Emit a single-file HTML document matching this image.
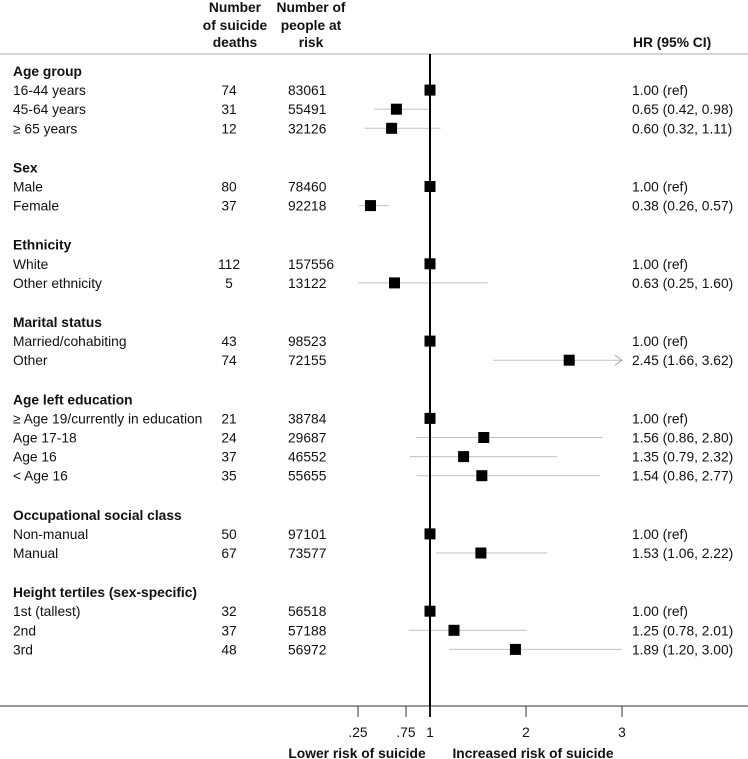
<!DOCTYPE html>
<html><head><meta charset="utf-8"><style>
body{margin:0;background:#fff;}
svg{display:block;font-family:"Liberation Sans",Arial,sans-serif;font-size:13.8px;fill:#111;}
.b{font-weight:bold;}
</style></head><body>
<svg id="chart" width="748" height="759">
<g>
<text class="b" text-anchor="middle"><tspan x="235" y="12">Number</tspan><tspan x="235" y="30">of suicide</tspan><tspan x="235" y="47">deaths</tspan></text>
<text class="b" text-anchor="middle"><tspan x="311" y="12">Number of</tspan><tspan x="311" y="30">people at</tspan><tspan x="311" y="47">risk</tspan></text>
<text class="b" x="633" y="47">HR (95% CI)</text>
</g>
<line x1="0" y1="54" x2="748" y2="54" stroke="#c8c8c8" stroke-width="1.5"/>
<line x1="0" y1="706" x2="748" y2="706" stroke="#333" stroke-width="1"/>
<g id="rows"></g>
<g id="axis"></g>
<text class="b" x="357" y="758" text-anchor="middle">Lower risk of suicide</text>
<text class="b" x="533" y="758" text-anchor="middle">Increased risk of suicide</text>
</svg>
<script>
const labels=["#Age group","16-44 years","45-64 years","≥ 65 years","#Sex","Male","Female","#Ethnicity","White","Other ethnicity","#Marital status","Married/cohabiting","Other","#Age left education","≥ Age 19/currently in education","Age 17-18","Age 16","< Age 16","#Occupational social class","Non-manual","Manual","#Height tertiles (sex-specific)","1st (tallest)","2nd","3rd"];
const deaths=[null,74,31,12,null,80,37,null,112,5,null,43,74,null,21,24,37,35,null,50,67,null,32,37,48];
const people=[null,83061,55491,32126,null,78460,92218,null,157556,13122,null,98523,72155,null,38784,29687,46552,55655,null,97101,73577,null,56518,57188,56972];
const hr=[null,1,0.65,0.60,null,1,0.38,null,1,0.63,null,1,2.45,null,1,1.56,1.35,1.54,null,1,1.53,null,1,1.25,1.89];
const lo=[null,null,0.42,0.32,null,null,0.26,null,null,0.25,null,null,1.66,null,null,0.86,0.79,0.86,null,null,1.06,null,null,0.78,1.20];
const hi=[null,null,0.98,1.11,null,null,0.57,null,null,1.60,null,null,3.62,null,null,2.80,2.32,2.77,null,null,2.22,null,null,2.01,3.00];
const ticks=[0.25,0.75,1,2,3];
const tickLabels=[".25",".75","1","2","3"];
const xMax=3;
const NS="http://www.w3.org/2000/svg";
const X=v=>430+(v-1)*96;
function mk(t,a,p){const e=document.createElementNS(NS,t);for(const k in a)e.setAttribute(k,a[k]);p.appendChild(e);return e;}
const rows=document.getElementById('rows');
let y=71,first=true;
labels.forEach((l,i)=>{
  if(l[0]==="#"){ if(!first) y+=20; first=false;
    const t=mk('text',{x:13,y:y+5,class:'b'},rows);t.textContent=l.slice(1);
    
    
    y+=19.1;return;}
  const t=mk('text',{x:13,y:y+5},rows);t.textContent=l;
  
  
  const d=mk('text',{x:229,y:y+5,'text-anchor':'middle'},rows);d.textContent=deaths[i];
  
  
  const p=mk('text',{x:288,y:y+5},rows);p.textContent=people[i];
  
  
  const h=mk('text',{x:632,y:y+5},rows);
  h.textContent=lo[i]==null?hr[i].toFixed(2)+" (ref)":hr[i].toFixed(2)+" ("+lo[i].toFixed(2)+", "+hi[i].toFixed(2)+")";
  
  
  if(lo[i]!=null){
    const ln=mk('line',{x1:X(lo[i]),x2:X(Math.min(hi[i],xMax)),y1:y,y2:y,stroke:'#c0c0c0','stroke-width':1},rows);
    
    
    if(hi[i]>xMax){const a=mk('polyline',{points:`${X(xMax)-7},${y-5} ${X(xMax)},${y} ${X(xMax)-7},${y+5}`,fill:'none',stroke:'#aaa','stroke-width':1},rows);
      
      }
  }
  const m=mk('rect',{x:X(hr[i])-5.5,y:y-5.5,width:11,height:11,fill:'#000'},rows);
  
  
  y+=19.1;
});
const ax=document.getElementById('axis');
const vl=mk('line',{x1:X(1),x2:X(1),y1:54,y2:717,stroke:'#000','stroke-width':2},ax);


ticks.forEach((v,i)=>{
  const tl=mk('line',{x1:X(v),x2:X(v),y1:706,y2:717,stroke:'#333','stroke-width':1},ax);
  
  
  const tt=mk('text',{x:X(v),y:737,'text-anchor':'middle'},ax);
  tt.textContent=tickLabels[i];
  
  
});
</script>
</body></html>
